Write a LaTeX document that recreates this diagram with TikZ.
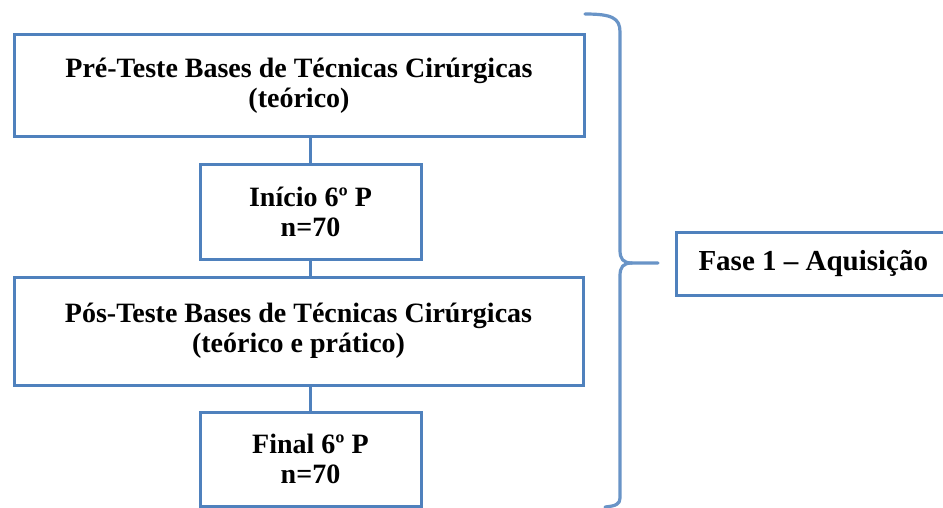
\documentclass[tikz,border=0pt]{standalone}
\usepackage{fontspec}
\setmainfont{Liberation Serif}
\definecolor{boxblue}{RGB}{79,129,189}
\begin{document}
\begin{tikzpicture}[x=1pt,y=-1pt,
  boxnode/.style={draw=boxblue, line width=3pt, fill=white, align=center,
    font=\bfseries\fontsize{28}{30}\selectfont, inner sep=0pt},
  link/.style={draw=boxblue, line width=3pt},
  bracestyle/.style={draw=boxblue!85, line width=3.2pt, line cap=round, line join=round}]
\clip (0,0) rectangle (943,508);
\fill[white] (0,0) rectangle (943,508);
\node[boxnode, minimum width=570pt, minimum height=102pt] (pre) at (299,86)
  {Pré-Teste Bases de Técnicas Cirúrgicas\\(teórico)};
\node[boxnode, minimum width=221pt, minimum height=94pt] (ini) at (310.5,212)
  {Início 6º P\\n=70};
\node[boxnode, minimum width=569pt, minimum height=108pt] (pos) at (298.5,331)
  {Pós-Teste Bases de Técnicas Cirúrgicas\\(teórico e prático)};
\node[boxnode, minimum width=221pt, minimum height=94pt] (fin) at (310.5,459)
  {Final 6º P\\n=70};
\node[boxnode, anchor=west, minimum height=63pt, inner xsep=22pt,
  font=\bfseries\fontsize{29}{30}\selectfont] (fase) at (675,263.5)
  {Fase 1 – Aquisição};
\draw[link] (pre.south -| ini.north) -- (ini.north);
\draw[link] (ini.south) -- (pos.north -| ini.south);
\draw[link] (pos.south -| fin.north) -- (fin.north);
\coordinate (tip) at (658,263);
\draw[bracestyle] (585,14) .. controls (612,14) and (620,18) .. (620,32)
  -- (620,250) .. controls (620,259) and (623,263) .. (632,263) -- (tip);
\draw[bracestyle] (632,263) .. controls (623,263) and (620,267) .. (620,276)
  -- (620,498) .. controls (620,504) and (616,506) .. (605,507);
\end{tikzpicture}
\end{document}
